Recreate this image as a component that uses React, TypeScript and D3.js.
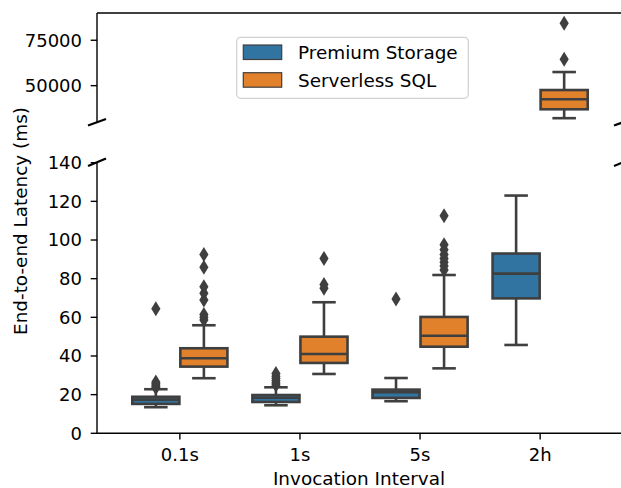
import React from "react";
import * as d3 from "d3";

const categories = ["0.1s", "1s", "5s", "2h"];
const seriesNames = ["Premium Storage", "Serverless SQL"];
const seriesColors = ["#3274a1", "#e1812c"];

// Premium Storage (ms)
const premiumWhiskerLow = [13.5, 14.5, 16.6, 45.7];
const premiumQ1 = [15.2, 16.2, 18.3, 69.8];
const premiumMedian = [17.4, 18.4, 21.2, 82.6];
const premiumQ3 = [18.9, 19.8, 22.6, 93.0];
const premiumWhiskerHigh = [22.8, 23.8, 28.6, 123.0];
const premiumOutliers = [
  [64.5, 23.6, 24.3, 25.0, 25.8, 26.5],
  [25.0, 26.0, 27.2, 28.4, 29.5, 31.0],
  [69.5],
  [],
];

// Serverless SQL (ms)
const sqlWhiskerLow = [28.5, 30.7, 33.6, 32100];
const sqlQ1 = [34.5, 36.4, 44.8, 37000];
const sqlMedian = [38.8, 41.0, 50.5, 42500];
const sqlQ3 = [44.0, 50.0, 60.2, 47600];
const sqlWhiskerHigh = [55.9, 67.8, 81.9, 57500];
const sqlOutliers = [
  [58.6, 60.0, 61.5, 69.0, 72.4, 75.8, 85.9, 92.5],
  [75.0, 77.0, 90.5],
  [84.5, 86.5, 88.5, 90.5, 92.5, 95.0, 97.5, 112.5],
  [64500, 84300],
];

const lowTicks = [0, 20, 40, 60, 80, 100, 120, 140];
const highTicks = [50000, 75000];

export default function App() {
  const W = 621;
  const H = 488;
  const left = 97;
  const right = 623;
  const x = d3.scaleLinear().domain([-0.69, 3.69]).range([left, right]);
  const yHigh = d3.scaleLinear().domain([30000, 90000]).range([122, 13]);
  const yLow = d3.scaleLinear().domain([0, 140]).range([433.3, 162.7]);
  const catW = x(1) - x(0);
  const boxW = ((0.8 * catW) / 2) * 0.98;
  const gray = "#3f3f3f";
  const lw = 2.6;
  const font = "DejaVu Sans, sans-serif";
  const fs = 18;
  const fsL = 18.4;

  const stats = [
    {
      lo: premiumWhiskerLow,
      q1: premiumQ1,
      med: premiumMedian,
      q3: premiumQ3,
      hi: premiumWhiskerHigh,
      out: premiumOutliers,
    },
    {
      lo: sqlWhiskerLow,
      q1: sqlQ1,
      med: sqlMedian,
      q3: sqlQ3,
      hi: sqlWhiskerHigh,
      out: sqlOutliers,
    },
  ];

  const diamond = "M0,-7.5L4.6,0L0,7.5L-4.6,0Z";

  const boxes: React.ReactNode[] = [];
  stats.forEach((s, si) => {
    categories.forEach((c, ci) => {
      const y = s.med[ci] > 140 ? yHigh : yLow;
      const cx = x(ci + (si === 0 ? -0.2 : 0.2));
      const yq1 = y(s.q1[ci]);
      const yq3 = y(s.q3[ci]);
      const capHalf = boxW / 4;
      boxes.push(
        <g key={`b-${si}-${ci}`}>
          <line x1={cx} x2={cx} y1={y(s.q3[ci])} y2={y(s.hi[ci])} stroke={gray} strokeWidth={lw} />
          <line x1={cx} x2={cx} y1={y(s.q1[ci])} y2={y(s.lo[ci])} stroke={gray} strokeWidth={lw} />
          <line x1={cx - capHalf} x2={cx + capHalf} y1={y(s.hi[ci])} y2={y(s.hi[ci])} stroke={gray} strokeWidth={lw} />
          <line x1={cx - capHalf} x2={cx + capHalf} y1={y(s.lo[ci])} y2={y(s.lo[ci])} stroke={gray} strokeWidth={lw} />
          <rect
            x={cx - boxW / 2}
            y={yq3}
            width={boxW}
            height={yq1 - yq3}
            fill={seriesColors[si]}
            stroke={gray}
            strokeWidth={lw}
          />
          <line
            x1={cx - boxW / 2}
            x2={cx + boxW / 2}
            y1={y(s.med[ci])}
            y2={y(s.med[ci])}
            stroke={gray}
            strokeWidth={lw}
          />
          {s.out[ci].map((v, oi) => (
            <path key={oi} d={diamond} transform={`translate(${cx},${y(v)})`} fill={gray} />
          ))}
        </g>
      );
    });
  });

  const breakMarks = [
    [left - 9, 125.5, left + 9, 119],
    [left - 9, 166, left + 9, 158.5],
    [right - 9, 125.5, right + 9, 119],
    [right - 9, 166, right + 9, 158.5],
  ];

  return (
    <svg
      width={W}
      height={H}
      style={{ position: "absolute", left: 0, top: 0, background: "#fff" }}
      fontFamily={font}
    >
      <rect width={W} height={H} fill="#fff" />
      {boxes}
      {/* spines */}
      <line x1={left} x2={right} y1={13} y2={13} stroke="#000" strokeWidth={1.4} />
      <line x1={left} x2={left} y1={13} y2={122} stroke="#000" strokeWidth={1.4} />
      <line x1={left} x2={left} y1={162.7} y2={433.3} stroke="#000" strokeWidth={1.4} />
      <line x1={left} x2={right} y1={433.3} y2={433.3} stroke="#000" strokeWidth={1.4} />
      {breakMarks.map((b, i) => (
        <line key={i} x1={b[0]} y1={b[1]} x2={b[2]} y2={b[3]} stroke="#000" strokeWidth={2.2} />
      ))}
      {/* y ticks */}
      {highTicks.map((t) => (
        <g key={`h${t}`}>
          <line x1={left - 6.3} x2={left} y1={yHigh(t)} y2={yHigh(t)} stroke="#000" strokeWidth={1.4} />
          <text x={left - 15} y={yHigh(t)} dy="0.36em" textAnchor="end" fontSize={fs} fill="#000">
            {t}
          </text>
        </g>
      ))}
      {lowTicks.map((t) => (
        <g key={`l${t}`}>
          <line x1={left - 6.3} x2={left} y1={yLow(t)} y2={yLow(t)} stroke="#000" strokeWidth={1.4} />
          <text x={left - 15} y={yLow(t)} dy="0.36em" textAnchor="end" fontSize={fs} fill="#000">
            {t}
          </text>
        </g>
      ))}
      {/* x ticks */}
      {categories.map((c, i) => (
        <g key={c}>
          <line x1={x(i)} x2={x(i)} y1={433.3} y2={439.6} stroke="#000" strokeWidth={1.4} />
          <text x={x(i)} y={461} textAnchor="middle" fontSize={fs} fill="#000">
            {c}
          </text>
        </g>
      ))}
      <text x={(left + right) / 2 - 1} y={485} textAnchor="middle" fontSize={fsL} fill="#000">
        Invocation Interval
      </text>
      <text
        transform={`translate(26.5,221) rotate(-90)`}
        textAnchor="middle"
        fontSize={fsL}
        fill="#000"
      >
        End-to-end Latency (ms)
      </text>
      {/* legend */}
      <rect x={236.7} y={37.3} width={231.6} height={61} rx={4} fill="#fff" fillOpacity={0.8} stroke="#d0d0d0" strokeWidth={1.2} />
      {seriesNames.map((n, i) => (
        <g key={n}>
          <rect x={243.3} y={45 + i * 27.7} width={38.4} height={14.5} fill={seriesColors[i]} stroke={gray} strokeWidth={1.2} />
          <text x={298} y={59.3 + i * 27.4} fontSize={fsL} fill="#000">
            {n}
          </text>
        </g>
      ))}
    </svg>
  );
}
